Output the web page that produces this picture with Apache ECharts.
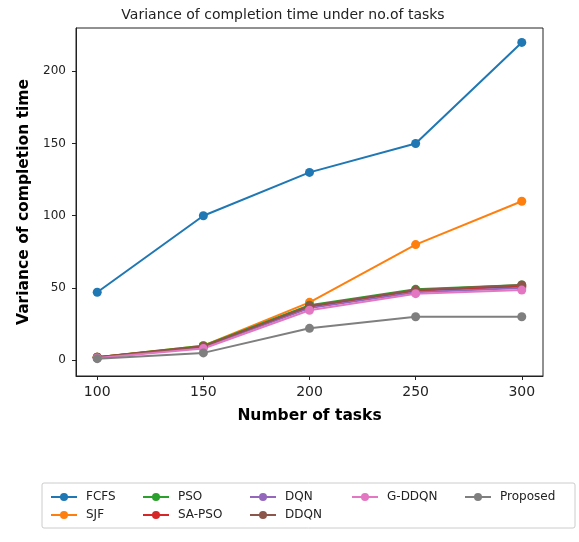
<!DOCTYPE html>
<html>
<head>
<meta charset="utf-8">
<script src="https://cdn.jsdelivr.net/npm/echarts@6/dist/echarts.min.js"></script>
<style>
  html, body { margin: 0; padding: 0; background: #fff; }
  #main { width: 579px; height: 542px; }
</style>
</head>
<body>
<div id="main"></div>
<script>
var tasks = [100, 150, 200, 250, 300];
var xTicks = [100, 150, 200, 250, 300];
var yTicks = [0, 50, 100, 150, 200];

var fcfs = [47, 100, 130, 150, 220];
var sjf = [2, 10, 40, 80, 110];
var pso = [2, 10, 38, 49, 52];
var saPso = [2, 9.5, 37, 48, 51];
var dqn = [1.5, 9, 36, 47, 50];
var ddqn = [2, 9.5, 37.5, 48.5, 52];
var gDdqn = [1.5, 8, 34.5, 46, 48.5];
var proposed = [1, 5, 22, 30, 30];

var names = ['FCFS', 'SJF', 'PSO', 'SA-PSO', 'DQN', 'DDQN', 'G-DDQN', 'Proposed'];
var values = [fcfs, sjf, pso, saPso, dqn, ddqn, gDdqn, proposed];
var colors = ['#1f77b4', '#ff7f0e', '#2ca02c', '#d62728', '#9467bd', '#8c564b', '#e377c2', '#7f7f7f'];

var font = 'DejaVu Sans';
var myChart = echarts.init(document.getElementById('main'));

var series = [];
for (var i = 0; i < names.length; i++) {
	series.push({
		name: names[i],
		type: 'line',
		data: tasks.map(function (t, k) { return [t, values[i][k]]; }),
		symbol: 'circle',
		symbolSize: 9,
		lineStyle: { width: 2, color: colors[i] },
		itemStyle: { color: colors[i] },
		emphasis: { disabled: true },
		animation: false
	});
}

// legend columns, matplotlib fills them top to bottom
var cols = [
	{ left: 45, data: ['FCFS', 'SJF'] },
	{ left: 137, data: ['PSO', 'SA-PSO'] },
	{ left: 244, data: ['DQN', 'DDQN'] },
	{ left: 346, data: ['G-DDQN'] },
	{ left: 459, data: ['Proposed'] }
];
var legends = cols.map(function (c) {
	return {
		orient: 'vertical',
		left: c.left,
		top: 486,
		data: c.data,
		itemWidth: 26,
		itemHeight: 10,
		itemGap: 6,
		selectedMode: false,
		textStyle: { fontFamily: font, fontSize: 12, color: '#222', padding: [0, 0, 0, 4] }
	};
});

option = {
	backgroundColor: '#fff',
	color: colors,
	title: {
		text: 'Variance of completion time under no.of tasks',
		left: 278,
		textAlign: 'center',
		top: 3,
		textStyle: { fontFamily: font, fontSize: 14, fontWeight: 'normal', color: '#222' }
	},
	legend: legends,
	grid: {
		left: 76,
		right: 36,
		top: 28,
		bottom: 166,
		show: true,
		borderColor: '#222',
		borderWidth: 1
	},
	xAxis: {
		type: 'value',
		min: 90,
		max: 310,
		name: 'Number of tasks',
		nameLocation: 'middle',
		nameGap: 32,
		nameTextStyle: { fontFamily: font, fontSize: 15.5, fontWeight: 'bold', color: '#000' },
		axisLine: { onZero: false, lineStyle: { color: '#222' } },
		axisTick: { show: true, length: 4, customValues: xTicks, lineStyle: { color: '#222' } },
		axisLabel: { customValues: xTicks, fontFamily: font, fontSize: 14, color: '#222', margin: 9 },
		splitLine: { show: false }
	},
	yAxis: {
		type: 'value',
		min: -11,
		max: 230,
		name: 'Variance of completion time',
		nameLocation: 'middle',
		nameGap: 39,
		nameTextStyle: { fontFamily: font, fontSize: 15.5, fontWeight: 'bold', color: '#000' },
		axisLine: { show: true, onZero: false, lineStyle: { color: '#222' } },
		axisTick: { show: true, length: 4, customValues: yTicks, lineStyle: { color: '#222' } },
		axisLabel: { customValues: yTicks, fontFamily: font, fontSize: 12, color: '#222', margin: 10 },
		splitLine: { show: false }
	},
	graphic: [{
		type: 'rect',
		shape: { x: 42, y: 483, width: 533, height: 45, r: 2 },
		style: { fill: 'none', stroke: '#ccc', lineWidth: 1 },
		z: -1
	}],
	series: series
};
myChart.setOption(option);
</script>
</body>
</html>
